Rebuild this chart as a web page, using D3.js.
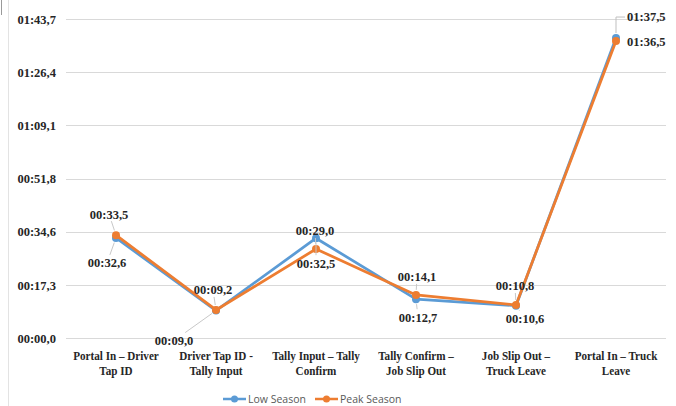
<!DOCTYPE html>
<html>
<head>
<meta charset="utf-8">
<script src="https://cdn.jsdelivr.net/npm/d3@7"></script>
<style>
  body { margin: 0; background: #fff; }
  svg { display: block; }
</style>
</head>
<body>
<div id="chart"></div>
<script>
// chart data (seconds)
var categories = [
   ["Portal In \u2013 Driver", "Tap ID"],
   ["Driver Tap ID -", "Tally Input"],
   ["Tally Input  \u2013 Tally", "Confirm"],
   ["Tally Confirm \u2013", "Job Slip Out"],
   ["Job Slip Out \u2013", "Truck Leave"],
   ["Portal In \u2013 Truck", "Leave"]
];
var lowSeason = [32.6, 9.0, 32.5, 12.7, 10.6, 97.5];
var peakSeason = [33.5, 9.2, 29.0, 14.1, 10.8, 96.5];
var yTicks = [0, 17.28, 34.56, 51.84, 69.12, 86.4, 103.68];

// label placement (dx, dy from point, text anchor)
var lowLabelPos = [[-9, 25], [-42, 30], [0, 25], [2, 18], [9, 13], [11, -21, "start", "elbow"]];
var peakLabelPos = [[-7, -21], [-3, -20], [-1, -18], [1, -18], [-1, -19], [11, 1, "start", "none"]];

var W = 676, H = 406;
var plot = {left: 66, right: 666, top: 19, bottom: 338.3};
var colors = {low: "#5B9BD5", peak: "#ED7D31"};

function fmt(s) {
   var m = Math.floor(s / 60);
   var sec = (s - m * 60).toFixed(1);
   if (sec.length < 4) sec = "0" + sec;
   return (m < 10 ? "0" : "") + m + ":" + sec.replace(".", ",");
}

var svg = d3.select("#chart").append("svg").attr("width", W).attr("height", H);

// frame remnants
svg.append("line").attr("x1", 8.5).attr("x2", 8.5).attr("y1", 0).attr("y2", H)
   .attr("stroke", "#e3e3e3");
svg.append("line").attr("x1", 1.5).attr("x2", 1.5).attr("y1", 0).attr("y2", 15)
   .attr("stroke", "#9a9a9a");

var catIdx = categories.map(function(d, i){ return i; });
var x = d3.scaleBand().domain(catIdx).range([plot.left, plot.right]);
var cx = function(i){ return x(i) + x.bandwidth() / 2; };
var y = d3.scaleLinear().domain([0, yTicks[yTicks.length - 1]]).range([plot.bottom, plot.top]);

// grid
svg.append("g").selectAll("line").data(yTicks).enter().append("line")
   .attr("x1", plot.left).attr("x2", plot.right)
   .attr("y1", function(d){ return Math.round(y(d)) + 0.5; })
   .attr("y2", function(d){ return Math.round(y(d)) + 0.5; })
   .attr("stroke", "#d9d9d9").attr("stroke-width", 1);

// y axis labels
var yAxis = d3.axisLeft(y).tickValues(yTicks).tickFormat(fmt).tickSize(0).tickPadding(10);
var gy = svg.append("g").attr("transform", "translate(" + plot.left + ",0)").call(yAxis);
gy.select(".domain").remove();
gy.selectAll("text")
   .attr("font-family", "'Liberation Serif', 'Times New Roman', serif")
   .attr("font-weight", "bold").attr("font-size", "12.5px").attr("fill", "#262626");

// x axis labels (narrow bold serif)
var gx = svg.append("g").selectAll("text").data(categories).enter().append("text")
   .attr("transform", function(d, i){ return "translate(" + cx(i) + ",360) scale(0.87,1)"; })
   .attr("text-anchor", "middle")
   .attr("font-family", "'Liberation Serif', 'Times New Roman', serif")
   .attr("font-weight", "bold").attr("font-size", "12.8px").attr("fill", "#262626");
gx.each(function(d){
   var t = d3.select(this);
   d.forEach(function(line, k){
      t.append("tspan").attr("x", 0).attr("dy", k ? 15 : 0).text(line);
   });
});

// series
var series = [
   {name: "Low Season", values: lowSeason, color: colors.low, pos: lowLabelPos},
   {name: "Peak Season", values: peakSeason, color: colors.peak, pos: peakLabelPos}
];
var line = d3.line().x(function(d, i){ return cx(i); }).y(function(d){ return y(d); });

series.forEach(function(s){
   svg.append("path").datum(s.values)
      .attr("d", line).attr("fill", "none")
      .attr("stroke", s.color).attr("stroke-width", 2.75).attr("stroke-linejoin", "round");
   svg.append("g").selectAll("circle").data(s.values).enter().append("circle")
      .attr("cx", function(d, i){ return cx(i); })
      .attr("cy", function(d){ return y(d); })
      .attr("r", 4).attr("fill", s.color);
});

// data labels with leader lines
series.forEach(function(s){
   s.values.forEach(function(v, i){
      var px = cx(i), py = y(v);
      var p = s.pos[i];
      var lx = px + p[0], ly = py + p[1];
      var anchor = p[2] || "middle";
      var leader = p[3] || "straight";
      if (leader === "elbow") {
         svg.append("polyline")
            .attr("points", [[px, py - 5], [px, ly], [lx - 2, ly]].join(" "))
            .attr("fill", "none").attr("stroke", "#bfbfbf").attr("stroke-width", 1);
      } else if (leader === "straight" && Math.abs(p[1]) > 12) {
         var dyEdge = p[1] > 0 ? p[1] - 8 : p[1] + 7;
         var t = dyEdge / p[1];
         var len = Math.sqrt(p[0] * p[0] + p[1] * p[1]);
         var t0 = 5 / len;
         if (t > t0) {
            svg.append("line")
               .attr("x1", px + p[0] * t0).attr("y1", py + p[1] * t0)
               .attr("x2", px + p[0] * t).attr("y2", py + p[1] * t)
               .attr("stroke", "#c8c8c8").attr("stroke-width", 1);
         }
      }
      svg.append("text")
         .attr("x", lx).attr("y", ly)
         .attr("dy", "0.35em")
         .attr("text-anchor", anchor)
         .attr("font-family", "'Liberation Serif', 'Times New Roman', serif")
         .attr("font-weight", "bold").attr("font-size", "12.5px").attr("fill", "#262626")
         .text(fmt(v));
   });
});

// legend
var legend = svg.append("g").attr("transform", "translate(223,399)");
series.forEach(function(s, k){
   var g = legend.append("g").attr("transform", "translate(" + (k * 92) + ",0)");
   g.append("line").attr("x1", 0).attr("x2", 23).attr("y1", 0).attr("y2", 0)
      .attr("stroke", s.color).attr("stroke-width", 2.5);
   g.append("circle").attr("cx", 11.5).attr("cy", 0).attr("r", 3.5).attr("fill", s.color);
   g.append("text").attr("x", 25).attr("y", 0).attr("dy", "0.35em")
      .attr("font-family", "'Open Sans', 'Noto Sans', sans-serif")
      .attr("font-size", "10.5px").attr("fill", "#595959")
      .text(s.name);
});
</script>
</body>
</html>
